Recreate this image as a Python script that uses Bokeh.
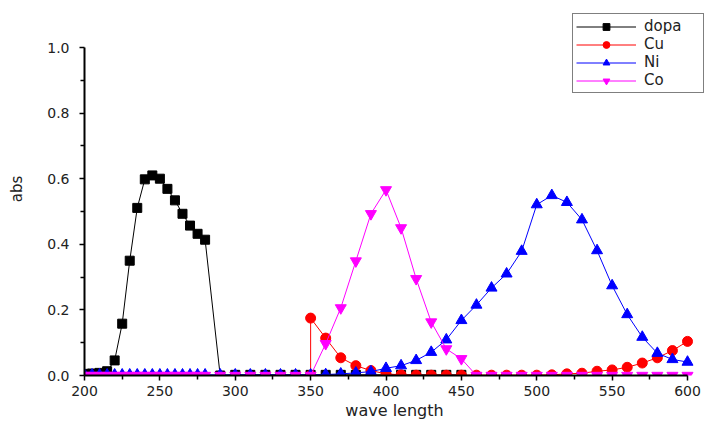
from bokeh.plotting import figure
from bokeh.models import FixedTicker, PrintfTickFormatter, Range1d
from bokeh.embed import file_html
from bokeh.resources import INLINE

# ---- data ----
dopa_x = [200, 205, 210, 215, 220, 225, 230, 235, 240, 245, 250, 255, 260, 265, 270, 275, 280,
          290, 300, 310, 320, 330, 340, 350, 360, 370, 380, 390, 400, 410, 420, 430, 440, 450]
dopa_y = [0.005, 0.006, 0.008, 0.013, 0.046, 0.158, 0.350, 0.511, 0.598, 0.610, 0.600, 0.569, 0.534,
          0.493, 0.457, 0.432, 0.414,
          0.0, 0.002, 0.002, 0.002, 0.002, 0.002, 0.002, 0.002, 0.002, 0.002, 0.002, 0.002, 0.002,
          0.002, 0.002, 0.002, 0.002]

cu_x = [350, 350, 360, 370, 380, 390, 400, 410, 420, 430, 440, 450, 460, 470, 480, 490, 500, 510,
        520, 530, 540, 550, 560, 570, 580, 590, 600]
cu_y = [0.0, 0.175, 0.114, 0.054, 0.030, 0.015, 0.005, 0.002, 0.001, 0.001, 0.001, 0.001, 0.001,
        0.001, 0.001, 0.001, 0.001, 0.002, 0.005, 0.007, 0.013, 0.017, 0.025, 0.038, 0.054, 0.076, 0.104]

nc_x = [200, 205, 210, 215, 220, 225, 230, 235, 240, 245, 250, 255, 260, 265, 270, 275, 280,
        290, 300, 310, 320, 330, 340, 350, 360, 370, 380, 390, 400, 410, 420, 430, 440, 450,
        460, 470, 480, 490, 500, 510, 520, 530, 540, 550, 560, 570, 580, 590, 600]
ni_y = [0.002, 0.002, 0.002, 0.002, 0.002, 0.002, 0.002, 0.002, 0.002, 0.002, 0.002, 0.002, 0.002,
        0.002, 0.002, 0.002, 0.002,
        0.002, 0.002, 0.002, 0.002, 0.002, 0.002, 0.002, 0.003, 0.005, 0.008, 0.012, 0.022, 0.030,
        0.046, 0.071, 0.109, 0.168, 0.215, 0.267, 0.310, 0.379, 0.521, 0.549, 0.528, 0.475, 0.381,
        0.274, 0.186, 0.117, 0.068, 0.049, 0.041]
co_y = [0.0, 0.0, 0.0, 0.0, 0.0, 0.0, 0.0, 0.0, 0.0, 0.0, 0.0, 0.0, 0.0, 0.0, 0.0, 0.0, 0.0,
        0.0, 0.0, 0.0, 0.0, 0.0, 0.0, 0.0, 0.097, 0.206, 0.349, 0.493, 0.566, 0.450, 0.295, 0.163,
        0.081, 0.051, 0.0, 0.0, 0.0, 0.0, 0.0, 0.0, 0.0, 0.0, 0.0, 0.0, 0.0, 0.0, 0.0, 0.0, 0.0]

x_ticks = [200, 250, 300, 350, 400, 450, 500, 550, 600]
x_minor = [225, 275, 325, 375, 425, 475, 525, 575]
y_ticks = [0.0, 0.2, 0.4, 0.6, 0.8, 1.0]
y_minor = [0.1, 0.3, 0.5, 0.7, 0.9]

FONT = "DejaVu Sans"

# frame spans the legend area too; axes are bounded to the data ranges
X0, X1 = 200, 600
PX_PER_X = 603 / 400.0
PX_PER_Y = 328 / 1.0
x_end = X1 + 17 / PX_PER_X
y_end = 1.0 + 45 / PX_PER_Y

p = figure(width=705, height=423, output_backend="svg", toolbar_location=None,
           x_range=Range1d(X0, x_end), y_range=Range1d(0, y_end),
           min_border_left=84, min_border_right=1, min_border_top=2, min_border_bottom=48,
           x_axis_label="wave length", y_axis_label="abs")
p.outline_line_color = None
p.grid.visible = False
p.background_fill_color = "white"
p.border_fill_color = "white"

series = [
    ("dopa", dopa_x, dopa_y, "black", "square", 9),
    ("Cu", cu_x, cu_y, "red", "circle", 10),
    ("Ni", nc_x, ni_y, "blue", "triangle", 11),
    ("Co", nc_x, co_y, "magenta", "inverted_triangle", 11),
]
for name, xs, ys, col, mk, sz in series:
    p.line(xs, ys, line_color=col, line_width=1, legend_label=name)
    p.scatter(xs, ys, marker=mk, size=sz, fill_color=col, line_color=col, legend_label=name)

p.xaxis.ticker = FixedTicker(ticks=x_ticks, minor_ticks=x_minor)
p.yaxis.ticker = FixedTicker(ticks=y_ticks, minor_ticks=y_minor)
p.yaxis.formatter = PrintfTickFormatter(format="%.1f")
p.xaxis.bounds = (X0, X1)
p.yaxis.bounds = (0, 1.0)

for ax in (p.xaxis[0], p.yaxis[0]):
    ax.axis_line_width = 2
    ax.axis_line_color = "black"
    ax.major_tick_line_color = "black"
    ax.minor_tick_line_color = "black"
    ax.major_tick_line_width = 1.5
    ax.minor_tick_line_width = 1.5
    ax.major_tick_in = 0
    ax.major_tick_out = 5
    ax.minor_tick_in = 0
    ax.minor_tick_out = 4
    ax.major_label_text_font = FONT
    ax.major_label_text_font_size = "14px"
    ax.major_label_text_color = "#222222"
    ax.axis_label_text_font = FONT
    ax.axis_label_text_font_style = "normal"
    ax.axis_label_text_color = "#222222"

p.xaxis.major_label_standoff = 5
p.xaxis.axis_label_standoff = 2
p.xaxis.axis_label_text_font_size = "16px"
p.yaxis.major_label_standoff = 10
p.yaxis.axis_label_standoff = 18
p.yaxis.axis_label_text_font_size = "15px"

lg = p.legend[0]
lg.location = (488, 282)
lg.border_line_color = "black"
lg.border_line_width = 1
lg.background_fill_color = "white"
lg.background_fill_alpha = 1
lg.padding = 3
lg.margin = 0
lg.spacing = 0
lg.glyph_width = 60
lg.glyph_height = 17
lg.label_height = 17
lg.label_width = 56
lg.label_standoff = 8
lg.label_text_font = FONT
lg.label_text_font_size = "15px"
lg.label_text_line_height = 1.15
lg.label_text_color = "#222222"

open("out.html", "w").write(file_html(p, INLINE))
